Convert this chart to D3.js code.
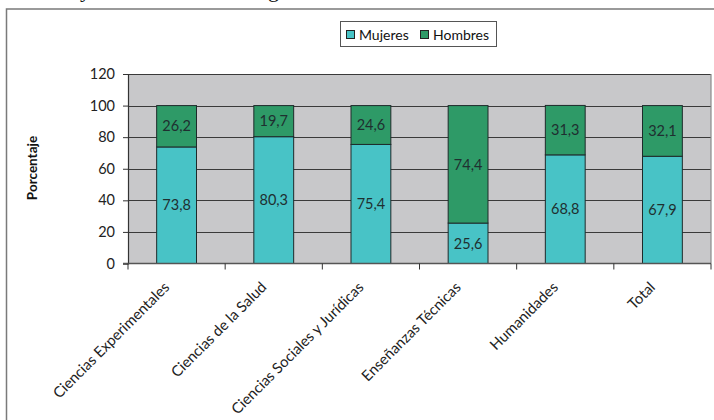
<!DOCTYPE html>
<html><head><meta charset="utf-8">
<script src="https://cdn.jsdelivr.net/npm/d3@7"></script>
<style>html,body{margin:0;padding:0;background:#fff;}svg{display:block;}</style>
</head><body>
<svg id="c" width="714" height="420"></svg>
<script>
const categories = ["Ciencias Experimentales","Ciencias de la Salud","Ciencias Sociales y Jurídicas","Enseñanzas Técnicas","Humanidades","Total"];
const mujeres = [73.8, 80.3, 75.4, 25.6, 68.8, 67.9];
const hombres = [26.2, 19.7, 24.6, 74.4, 31.3, 32.1];
const seriesNames = ["Mujeres","Hombres"];
const yTicks = [0,20,40,60,80,100,120];
const colors = {Mujeres:"#48C3C6", Hombres:"#2E9A67"};
const fmt = v => v.toFixed(1).replace(".", ",");

const svg = d3.select("#c");
const font = "Lato, 'Open Sans', sans-serif";

// partial serif title fragments above the frame (cut off in the reference)
svg.append("text").attr("x",80).attr("y",-3).attr("font-family","'Liberation Serif', serif").attr("font-size",22).attr("fill","#111").text("y");
svg.append("text").attr("x",268).attr("y",-3).attr("font-family","'Liberation Serif', serif").attr("font-size",22).attr("fill","#111").text("g");

// outer frame
svg.append("rect").attr("x",6.5).attr("y",9).attr("width",720).attr("height",430)
  .attr("fill","none").attr("stroke","#7a7a7a").attr("stroke-width",1.5);

const m = {left:128, right:711, top:74, bottom:263.5};
const x = d3.scaleBand().domain(categories).range([m.left, m.right]).paddingInner(0.59).paddingOuter(0.295);
const xb = d3.scaleBand().domain(categories).range([m.left, m.right]).padding(0);
const y = d3.scaleLinear().domain([0,120]).range([m.bottom, m.top]);

// plot background
svg.append("rect").attr("x",m.left).attr("y",m.top).attr("width",m.right-m.left).attr("height",m.bottom-m.top)
  .attr("fill","#C8C8CA");

// gridlines
svg.append("g").selectAll("line").data(yTicks.filter(t=>t>0)).join("line")
  .attr("x1",m.left).attr("x2",m.right).attr("y1",d=>Math.round(y(d))+0.5).attr("y2",d=>Math.round(y(d))+0.5)
  .attr("stroke","#3a3a3a").attr("stroke-width",1);
// right edge of plot
svg.append("line").attr("x1",m.right).attr("x2",m.right).attr("y1",m.top).attr("y2",m.bottom)
  .attr("stroke","#8a8a8a").attr("stroke-width",1.2);

// stacks
const rows = categories.map((c,i)=>({cat:c, Mujeres:mujeres[i], Hombres:hombres[i]}));
const stack = d3.stack().keys(seriesNames)(rows);
const gBars = svg.append("g");
stack.forEach(s=>{
  const g = gBars.append("g");
  g.selectAll("rect").data(s).join("rect")
    .attr("x",d=>x(d.data.cat)).attr("width",x.bandwidth())
    .attr("y",d=>y(d[1])).attr("height",d=>y(d[0])-y(d[1]))
    .attr("fill",colors[s.key]).attr("stroke","#1e2a2a").attr("stroke-width",1);
  g.selectAll("text").data(s).join("text")
    .attr("x",d=>x(d.data.cat)+x.bandwidth()/2).attr("y",d=>(y(d[0])+y(d[1]))/2)
    .attr("dy","0.36em").attr("text-anchor","middle")
    .attr("font-family",font).attr("font-size",14.5).attr("fill","#1f2f30")
    .text(d=>fmt(d.data[s.key]));
});

// y axis
const yAxis = svg.append("g").attr("transform",`translate(${m.left},0)`)
  .call(d3.axisLeft(y).tickValues(yTicks).tickSize(5).tickPadding(8));
yAxis.select(".domain").attr("stroke","#333").attr("stroke-width",1.2);
yAxis.selectAll(".tick line").attr("stroke","#333");
yAxis.selectAll("text").attr("font-family",font).attr("font-size",14.5).attr("fill","#222");

// x axis line and boundary ticks
svg.append("line").attr("x1",m.left-5).attr("x2",m.right).attr("y1",m.bottom).attr("y2",m.bottom)
  .attr("stroke","#555").attr("stroke-width",1.5);
const bounds = categories.map(c=>xb(c)).concat([m.right]);
svg.append("g").selectAll("line").data(bounds).join("line")
  .attr("x1",d=>d).attr("x2",d=>d).attr("y1",m.bottom).attr("y2",m.bottom+6)
  .attr("stroke","#333").attr("stroke-width",1);

// category labels
svg.append("g").selectAll("text").data(categories).join("text")
  .attr("transform",d=>`translate(${xb(d)+xb.bandwidth()/2-10},${m.bottom+21}) rotate(-45)`)
  .attr("text-anchor","end").attr("dy","0.35em")
  .attr("font-family",font).attr("font-size",14.8).attr("fill","#222")
  .text(d=>d);

// y title
svg.append("text").attr("transform","translate(37,168) rotate(-90)").attr("text-anchor","middle")
  .attr("font-family",font).attr("font-size",13.5).attr("font-weight","bold").attr("fill","#111")
  .text("Porcentaje");

// legend
const lg = svg.append("g");
lg.append("rect").attr("x",340.5).attr("y",21.5).attr("width",156).attr("height",25)
  .attr("fill","#fff").attr("stroke","#555").attr("stroke-width",1);
const legX = [346, 420];
seriesNames.forEach((s,i)=>{
  lg.append("rect").attr("x",legX[i]+0.5).attr("y",30.5).attr("width",8).attr("height",8)
    .attr("fill",colors[s]).attr("stroke","#222").attr("stroke-width",1);
  lg.append("text").attr("x",legX[i]+13).attr("y",35).attr("dy","0.35em")
    .attr("font-family",font).attr("font-size",14).attr("fill","#111").text(s);
});
</script>
</body></html>
